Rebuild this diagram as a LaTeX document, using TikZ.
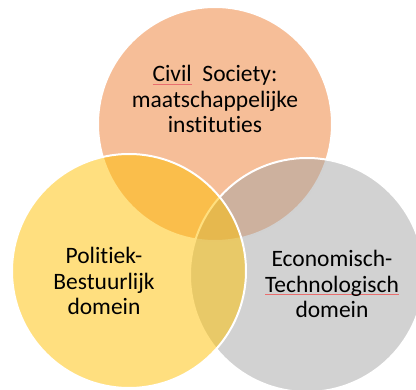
\documentclass[tikz,border=0pt]{standalone}
\usepackage{fontspec}
\setmainfont[Ligatures={NoCommon,NoContextual}]{Carlito}
\definecolor{spellRed}{RGB}{232,110,110}
\newcommand{\spellmark}[1]{\setbox0\hbox{#1}\rlap{\textcolor{spellRed}{\rule[-3pt]{\wd0}{0.6pt}}}\box0}
\begin{document}
\begin{tikzpicture}[x=1pt,y=-1pt]
  % colors
  \definecolor{vOrange}{RGB}{237,125,49}
  \definecolor{vGold}{RGB}{255,192,0}
  \definecolor{vGrey}{RGB}{165,165,165}
  \tikzset{venn/.style={draw=white,line width=2pt,fill opacity=0.5},
           lbl/.style={align=center,font=\fontsize{23.5}{25.5}\selectfont,text=black}}
  % frame
  \useasboundingbox (0,0) rectangle (416,390);
  \clip (0,0) rectangle (416,390);
  % circles
  \draw[venn,fill=vOrange] (215,124) circle[radius=117pt];
  \draw[venn,fill=vGrey] (307,275) circle[radius=117pt];
  \draw[venn,fill=vGold] (129,271) circle[radius=117pt];
  % labels
  \node[lbl] (civil) at (215,99) {\spellmark{Civil}~~Society:\\maatschappelijke\\instituties};
  \node[lbl] (politiek) at (104,281) {Politiek-\\Bestuurlijk\\domein};
  \node[lbl] (economie) at (332,284) {Economisch-\\\spellmark{Technologisch}\\domein};
\end{tikzpicture}
\end{document}
